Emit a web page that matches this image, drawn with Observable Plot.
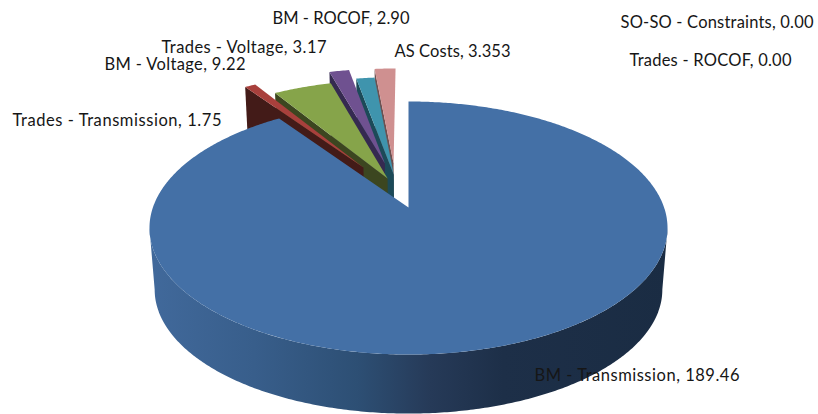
<!DOCTYPE html>
<html>
<head>
<meta charset="utf-8">
<style>html,body{margin:0;padding:0;background:#fff}svg{display:block}</style>
<script src="https://cdn.jsdelivr.net/npm/d3@7"></script>
<script src="https://cdn.jsdelivr.net/npm/@observablehq/plot@0.6"></script>
</head>
<body>
<script>
// ---- chart data ----
const categories = ["BM - Transmission","Trades - Transmission","BM - Voltage","Trades - Voltage","BM - ROCOF","AS Costs","SO-SO - Constraints","Trades - ROCOF"];
const values = [189.46,1.75,9.22,3.17,2.90,3.353,0,0];
const valueLabels = ["189.46","1.75","9.22","3.17","2.90","3.353","0.00","0.00"];
// ---- styling ----
const topColors = ["#4470a6","#a8403c","#86a44a","#6f5190","#3f94ad","#cf9090"];
const wallColors = ["url(#mainWall)","#431b18","#3c4620","#352a50","#1c4a58","#6e5050"];
// ---- layout: explosion of each slice on the pie's plane ----
const explodeU = [0,-0.186,-0.085,-0.098,-0.060,-0.062,0,0];
const explodeV = [0,0.343,0.245,0.379,0.277,0.381,0,0];
const labelLeft = [534,12,104,161,272,394,620,629];
const labelMid = [375,120,64,47,18,51,22,60];
const labelWidth = [205,209,141,165,137,116,193,162];
const W = 818, H = 414;
const view = {cx:408, topY:207, botY:269, a:255.6, b:123.2, k:0.162, bottomScale:0.98};

const project = (u, v, bottom) => {
  const w = 1 + view.k * v, s = bottom ? view.bottomScale : 1;
  return {x: view.cx + s * view.a * u / w, y: (bottom ? view.botY : view.topY) - s * view.b * v / w};
};
const arcs = d3.pie().sort(null).startAngle(0).endAngle(2 * Math.PI)(values);
const rim = (a0, a1, i, bottom) => {
  const n = Math.max(2, Math.ceil((a1 - a0) / 0.01));
  return d3.range(n + 1).map(j => {
    const t = a0 + (a1 - a0) * j / n;
    return project(explodeU[i] + Math.sin(t), explodeV[i] + Math.cos(t), bottom);
  });
};
const apex = (i, bottom) => project(explodeU[i], explodeV[i], bottom);
const poly = (pts, fill) => Plot.line(pts, {x:"x", y:"y", fill, stroke:"none", curve:"linear-closed"});

const marks = [
  () => {
    const defs = d3.create("svg:defs");
    const g = defs.append("linearGradient").attr("id","mainWall").attr("gradientUnits","userSpaceOnUse")
      .attr("x1",150).attr("x2",668).attr("y1",0).attr("y2",0);
    [[0,"#41699b"],[0.2,"#385e8b"],[0.4,"#2d4f74"],[0.54,"#263a58"],[0.68,"#1d2f48"],[1,"#1a2c43"]]
      .forEach(([o,c]) => g.append("stop").attr("offset",o).attr("stop-color",c));
    return defs.node();
  }
];
// exploded slices, back to front: each one's top covers the wall of the one before it
for (const i of [5,4,3,2,1]) {
  const a = arcs[i];
  const wallStart = project(explodeU[i] + Math.sin(a.startAngle), explodeV[i] + Math.cos(a.startAngle), false);
  const wallEnd = project(explodeU[i] + Math.sin(a.startAngle), explodeV[i] + Math.cos(a.startAngle), true);
  marks.push(poly([apex(i,false), wallStart, wallEnd, apex(i,true)], wallColors[i]));
  marks.push(poly([apex(i,false), ...rim(a.startAngle, a.endAngle, i, false)], topColors[i]));
}
// main slice: outer wall between the two silhouette tangents, then top
const a0 = arcs[0];
const tangent = Math.acos(-view.k);
marks.push(poly([...rim(tangent, 2*Math.PI - tangent, 0, false), ...rim(tangent, 2*Math.PI - tangent, 0, true).reverse()], wallColors[0]));
marks.push(poly([apex(0,false), ...rim(a0.startAngle, a0.endAngle, 0, false)], topColors[0]));

const labels = categories.map((c, i) => ({text: `${c}, ${valueLabels[i]}`, x: labelLeft[i], y: labelMid[i]}));
marks.push(Plot.text(labels, {x:"x", y:"y", text:"text", textAnchor:"start", lineAnchor:"middle", fontSize:16.5, fill:"#161616"}));

const chart = Plot.plot({
  width:W, height:H, margin:0,
  x:{domain:[0,W], range:[0,W], axis:null},
  y:{domain:[0,H], range:[0,H], axis:null},
  style:{fontFamily:"Lato, 'Open Sans', sans-serif", background:"#fff"},
  marks
});
d3.select(chart).selectAll("text").each(function(_, j) {
  const i = labels.findIndex(l => l.text === this.textContent);
  if (i >= 0) this.setAttribute("textLength", labelWidth[i]);
});
document.body.append(chart);
</script>
</body>
</html>
